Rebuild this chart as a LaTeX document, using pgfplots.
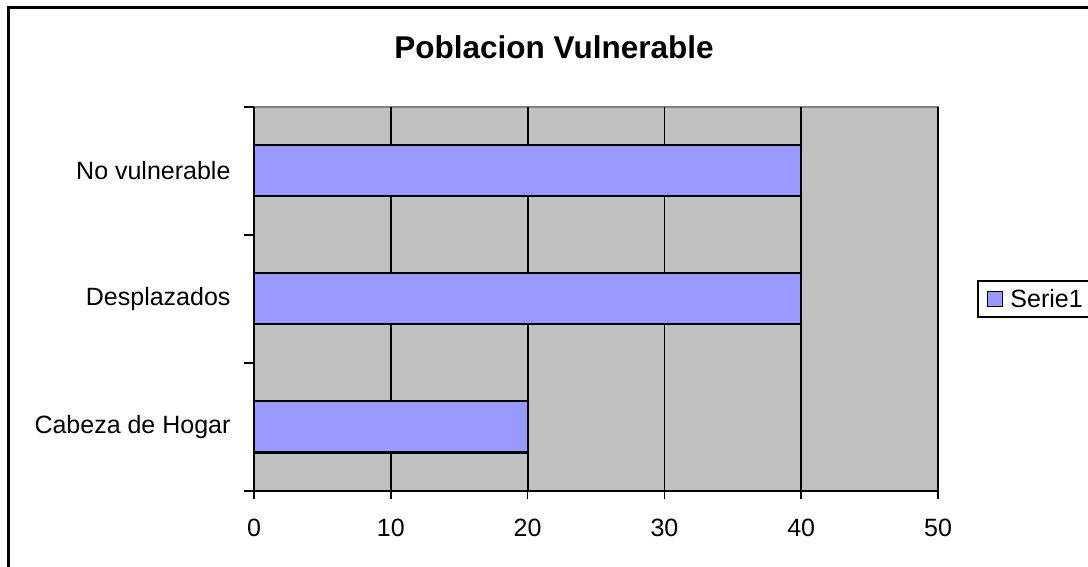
\documentclass[border=0pt]{standalone}
\usepackage{pgfplots}
\pgfplotsset{compat=1.18}
\usepackage{fontspec}
\setmainfont{Liberation Sans}
\definecolor{plotgray}{RGB}{192,192,192}
\definecolor{bordergray}{RGB}{128,128,128}
\definecolor{barblue}{RGB}{153,153,255}
\begin{document}
\begin{tikzpicture}
\useasboundingbox (0,0) rectangle (1088bp,567bp);
\clip (0,0) rectangle (1088bp,567bp);
\draw[line width=2.5bp] (8.5bp,-10bp) -- (8.5bp,559.5bp) -- (1120bp,559.5bp);
\node[anchor=base, font=\fontsize{31.5bp}{36bp}\selectfont\bfseries] at (554bp,508bp) {Poblacion Vulnerable};
\begin{axis}[
  scale only axis,
  width=684bp, height=384bp,
  at={(254bp,76bp)}, anchor=south west,
  xmin=0, xmax=50, ymin=-0.5, ymax=2.5,
  xtick={0,10,20,30,40,50},
  ytick={0,1,2},
  yticklabels={Cabeza de Hogar, Desplazados, No vulnerable},
  minor ytick={-0.5,0.5,1.5,2.5},
  tick align=outside,
  major tick length=8bp,
  minor tick length=10bp,
  ytick style={draw=none},
  minor y tick style={draw=black, line width=1.5bp},
  xtick style={draw=black, line width=1.5bp},
  tick label style={font=\fontsize{25bp}{30bp}\selectfont},
  /pgf/number format/assume math mode=true,
  xticklabel style={yshift=-17bp},
  yticklabel style={xshift=-12bp},
  axis background/.style={fill=plotgray, draw=bordergray, line width=2.5bp},
  axis x line*=bottom, axis y line*=left,
  axis line style={-, black, line width=2bp},
  xmajorgrids,
  major grid style={black, line width=1.8bp},
  legend style={at={(1,0.5)}, anchor=west, xshift=39bp, draw=black, line width=1.5bp,
    font=\fontsize{25bp}{30bp}\selectfont, inner xsep=9bp, inner ysep=3bp},
  legend image code/.code={\path[draw=none, fill=none] (0bp,-15bp) rectangle (21bp,15bp); \draw[#1, line width=1.5bp] (0bp,-7.5bp) rectangle (15bp,7.5bp);},
]
\addplot[xbar, bar width=51bp, fill=barblue, draw=black, line width=2bp]
  coordinates {(20,0) (40,1) (40,2)};
\addlegendentry{Serie1}
\end{axis}
\end{tikzpicture}
\end{document}
